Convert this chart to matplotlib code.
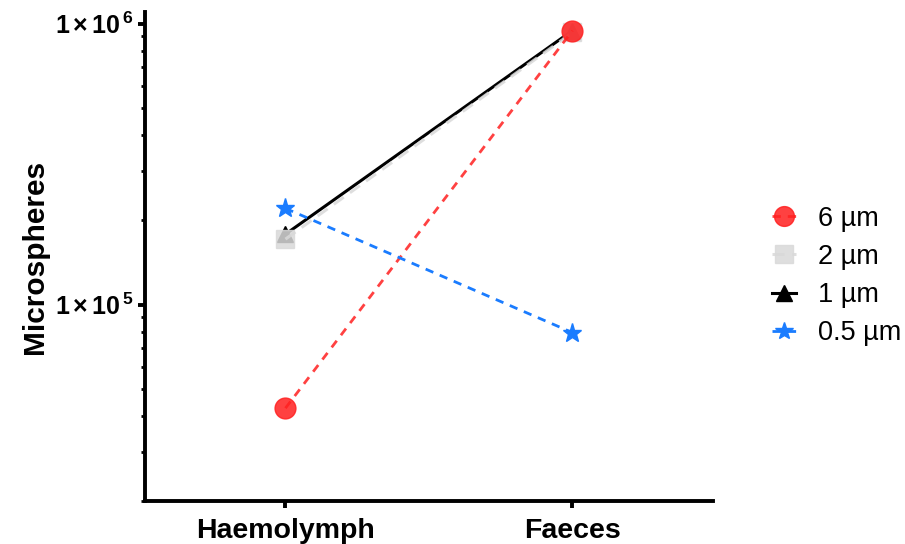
import numpy as np
import matplotlib
matplotlib.use("Agg")
import matplotlib.pyplot as plt
from matplotlib.ticker import LogLocator, NullFormatter, FixedLocator

plt.rcParams['font.family'] = ['Liberation Sans', 'DejaVu Sans']
plt.rcParams['mathtext.fontset'] = 'custom'
plt.rcParams['mathtext.rm'] = 'Liberation Sans:bold'
plt.rcParams['mathtext.bf'] = 'Liberation Sans:bold'

sites = ["Haemolymph", "Faeces"]
sizes = ["6 µm", "2 µm", "1 µm", "0.5 µm"]

counts_6um = [42800, 944000]
counts_2um = [171000, 930000]
counts_1um = [178000, 945000]
counts_05um = [220000, 79500]

ytick_vals = [1e5, 1e6]
ytick_labels = [r"$1\,{\times}\,10^{\,5}$", r"$1\,{\times}\,10^{\,6}$"]

x = np.arange(len(sites))

fig = plt.figure(figsize=(9.05, 5.44), dpi=100)
ax = fig.add_axes([0.160, 0.079, 0.628, 0.899])

ax.plot(x, counts_1um, color="black", ls="-", lw=2.2, marker="^", ms=12,
        label=sizes[2], zorder=3)
ax.plot(x, counts_2um, color="#d9d9d9", ls=(0, (4, 2.5)), lw=2.2, marker="s", ms=13,
        alpha=0.85, label=sizes[1], zorder=4)
ax.plot(x, counts_6um, color="#ff2020", ls=(0, (3, 2.5)), lw=2.0, marker="o", ms=15,
        alpha=0.85, label=sizes[0], zorder=5)
ax.plot(x, counts_05um, color="#1a7cff", ls=(0, (3, 2.5)), lw=2.0, marker="*", ms=14,
        label=sizes[3], zorder=6)

ax.set_yscale("log")
ax.set_ylim(20000, 1.1e6)
ax.set_xlim(-0.49, 1.49)

ax.yaxis.set_major_locator(FixedLocator(ytick_vals))
ax.set_yticklabels(ytick_labels, fontsize=18)
ax.yaxis.set_minor_locator(LogLocator(base=10, subs=np.arange(2, 10)))
ax.yaxis.set_minor_formatter(NullFormatter())

ax.set_xticks(x)
ax.set_xticklabels(sites, fontsize=20.5, fontweight="bold")
ax.set_ylabel("Microspheres", fontsize=21.5, fontweight="bold", labelpad=4)

for side in ["top", "right"]:
    ax.spines[side].set_visible(False)
for side in ["left", "bottom"]:
    ax.spines[side].set_linewidth(2.8)

ax.tick_params(axis="both", which="major", width=2.8, length=5, pad=3)
ax.tick_params(axis="x", which="major", pad=7)
ax.tick_params(axis="y", which="minor", width=2.0, length=3)

handles, labels = ax.get_legend_handles_labels()
order = [2, 1, 0, 3]
ax.legend([handles[i] for i in order], [labels[i] for i in order],
          loc="center left", bbox_to_anchor=(1.06, 0.46), frameon=False,
          fontsize=19.5, handlelength=0.9, handletextpad=0.8, labelspacing=0.45,
          markerscale=0.95)

fig.savefig("out.png", dpi=100)
